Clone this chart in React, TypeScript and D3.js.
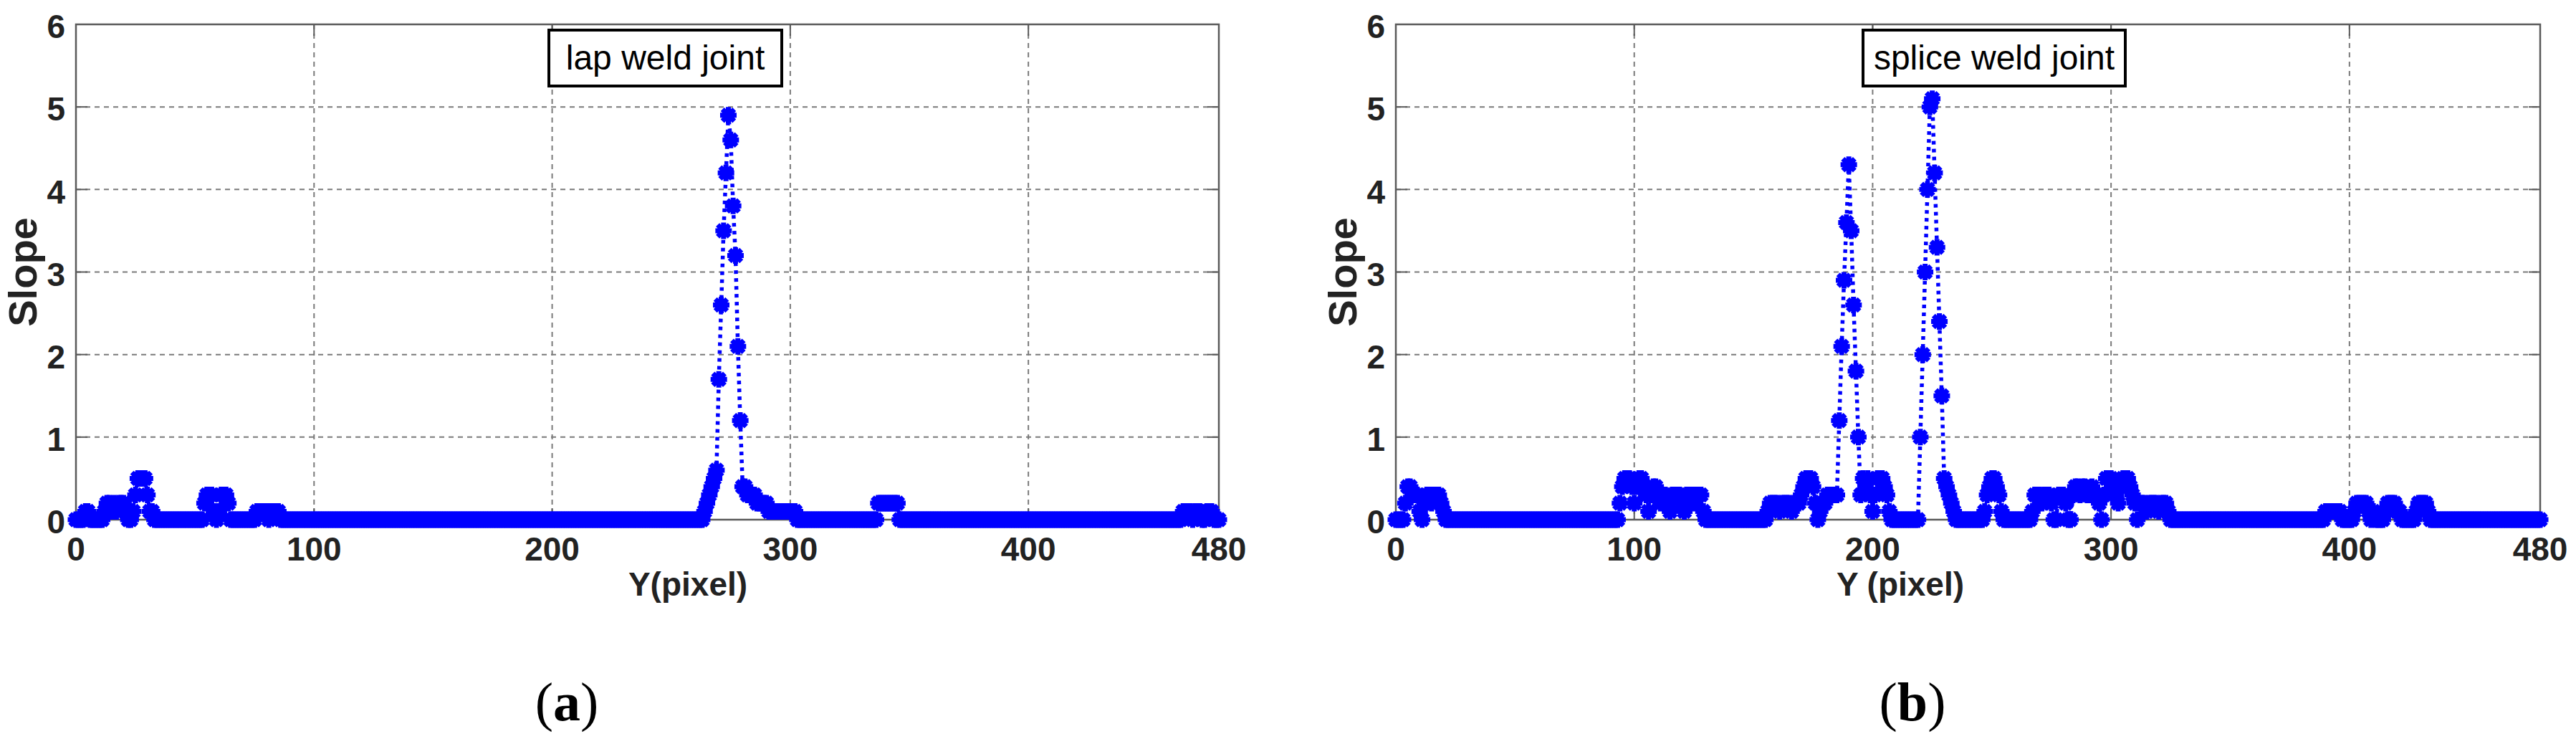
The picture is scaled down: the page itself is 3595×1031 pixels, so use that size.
import * as d3 from 'd3';

const W = 3595;
const H = 1031;

const X_TICKS = [0, 100, 200, 300, 400, 480];
const Y_TICKS = [0, 1, 2, 3, 4, 5, 6];
const GRID_X = [100, 200, 300, 400];
const GRID_Y = [1, 2, 3, 4, 5];

// Slope, [Y pixel, slope]; every other pixel 0..480 reads 0
const LAP_POINTS: [number, number][] = [
  [4, 0.1], [5, 0.1],
  [12, 0.1], [13, 0.2], [14, 0.2], [15, 0.1], [16, 0.2], [17, 0.1], [18, 0.2], [19, 0.2], [20, 0.2], [21, 0.1],
  [24, 0.1], [25, 0.3], [26, 0.5], [27, 0.5], [28, 0.5], [29, 0.5], [30, 0.3], [31, 0.1], [32, 0.1],
  [54, 0.2], [55, 0.3], [56, 0.3], [57, 0.3], [58, 0.1], [60, 0.1], [61, 0.3], [62, 0.3], [63, 0.3], [64, 0.2],
  [76, 0.1], [77, 0.1], [78, 0.1], [79, 0.1], [80, 0.1], [82, 0.1], [83, 0.1], [84, 0.1], [85, 0.1],
  [264, 0.1], [265, 0.2], [266, 0.3], [267, 0.4], [268, 0.5], [269, 0.6],
  [270, 1.7], [271, 2.6], [272, 3.5], [273, 4.2], [274, 4.9], [275, 4.6], [276, 3.8], [277, 3.2], [278, 2.1], [279, 1.2],
  [280, 0.4], [281, 0.4], [282, 0.3], [283, 0.3], [284, 0.3], [285, 0.3], [286, 0.2], [287, 0.2], [288, 0.2], [289, 0.2], [290, 0.2],
  [291, 0.1], [292, 0.1], [293, 0.1], [294, 0.1], [295, 0.1], [296, 0.1], [297, 0.1], [298, 0.1], [299, 0.1], [300, 0.1], [301, 0.1], [302, 0.1],
  [337, 0.2], [338, 0.2], [339, 0.2], [340, 0.2], [341, 0.2], [342, 0.2], [343, 0.2], [344, 0.2], [345, 0.2],
  [465, 0.1], [466, 0.1], [467, 0.1], [468, 0.1], [470, 0.1], [471, 0.1], [472, 0.1], [475, 0.1], [476, 0.1], [477, 0.1],
];

const SPLICE_POINTS: [number, number][] = [
  [4, 0.2], [5, 0.4], [6, 0.4], [7, 0.3], [8, 0.3], [9, 0.3], [10, 0.1], [12, 0.2], [13, 0.3], [14, 0.3], [15, 0.2],
  [16, 0.3], [17, 0.3], [18, 0.3], [19, 0.2], [20, 0.1],
  [94, 0.2], [95, 0.4], [96, 0.5], [97, 0.5], [98, 0.5], [99, 0.4], [100, 0.2], [101, 0.4], [102, 0.5], [103, 0.5],
  [104, 0.4], [105, 0.3], [106, 0.1], [107, 0.3], [108, 0.4], [109, 0.4], [110, 0.3], [111, 0.2], [112, 0.3], [113, 0.3],
  [114, 0.2], [115, 0.1], [116, 0.3], [117, 0.3], [118, 0.3], [119, 0.3], [120, 0.2], [121, 0.1], [122, 0.3], [123, 0.3],
  [124, 0.3], [125, 0.2], [126, 0.3], [127, 0.3], [128, 0.3], [129, 0.1],
  [156, 0.1], [157, 0.2], [158, 0.2], [159, 0.2], [160, 0.2], [161, 0.1], [162, 0.2], [163, 0.2], [164, 0.2], [165, 0.2],
  [166, 0.1], [167, 0.2], [168, 0.2], [169, 0.2], [170, 0.3], [171, 0.4], [172, 0.5], [173, 0.5], [174, 0.5], [175, 0.4],
  [176, 0.2], [178, 0.1], [179, 0.2], [180, 0.2], [181, 0.3], [182, 0.3], [183, 0.3], [184, 0.3], [185, 0.3],
  [186, 1.2], [187, 2.1], [188, 2.9], [189, 3.6], [190, 4.3], [191, 3.5], [192, 2.6], [193, 1.8], [194, 1.0],
  [195, 0.3], [196, 0.5], [197, 0.4], [198, 0.5], [199, 0.3], [200, 0.1], [201, 0.3], [202, 0.5], [203, 0.5], [204, 0.5],
  [205, 0.4], [206, 0.3], [207, 0.1],
  [220, 1.0], [221, 2.0], [222, 3.0], [223, 4.0], [224, 5.0], [225, 5.1], [226, 4.2], [227, 3.3], [228, 2.4], [229, 1.5],
  [230, 0.5], [231, 0.4], [232, 0.3], [233, 0.2], [234, 0.1],
  [247, 0.1], [248, 0.3], [249, 0.4], [250, 0.5], [251, 0.5], [252, 0.4], [253, 0.3], [254, 0.1],
  [267, 0.1], [268, 0.3], [269, 0.3], [270, 0.3], [271, 0.2], [272, 0.3], [273, 0.3], [274, 0.3], [275, 0.2],
  [278, 0.3], [279, 0.3], [280, 0.3], [281, 0.2], [284, 0.3], [285, 0.4], [286, 0.4], [287, 0.3], [288, 0.4], [289, 0.4],
  [290, 0.3], [291, 0.3], [292, 0.4], [293, 0.3], [294, 0.3], [295, 0.2], [297, 0.3], [298, 0.5], [299, 0.5], [300, 0.5],
  [301, 0.4], [302, 0.3], [303, 0.2], [304, 0.4], [305, 0.5], [306, 0.5], [307, 0.5], [308, 0.4], [309, 0.3], [310, 0.2],
  [312, 0.2], [313, 0.2], [314, 0.2], [315, 0.1], [316, 0.2], [317, 0.2], [318, 0.2], [319, 0.2], [320, 0.1], [321, 0.2],
  [322, 0.2], [323, 0.2], [324, 0.1],
  [390, 0.1], [391, 0.1], [392, 0.1], [393, 0.1], [394, 0.1], [395, 0.1], [396, 0.1],
  [402, 0.1], [403, 0.2], [404, 0.2], [405, 0.2], [406, 0.2], [407, 0.2], [408, 0.1], [410, 0.1],
  [415, 0.1], [416, 0.2], [417, 0.2], [418, 0.2], [419, 0.2], [420, 0.1], [421, 0.1],
  [428, 0.1], [429, 0.2], [430, 0.2], [431, 0.2], [432, 0.2], [433, 0.1],
];

const PIXELS = d3.range(0, 481);

const PANELS = [
  { id: 'a', points: LAP_POINTS, note: 'lap weld joint', xLabel: 'Y(pixel)',
    left: 106, right: 1701, noteL: 766, noteR: 1091, xLabelX: 960, captionX: 791 },
  { id: 'b', points: SPLICE_POINTS, note: 'splice weld joint', xLabel: 'Y (pixel)',
    left: 1948, right: 3545, noteL: 2600, noteR: 2966, xLabelX: 2652, captionX: 2669 },
];

const TOP = 34;
const BOTTOM = 725;
const BLUE = '#0000ff';
const GRID = '#7a7a7a';
const AXIS = '#5a5a5a';
const INK = '#222';
const FONT = '"Liberation Sans", Arial, Helvetica, sans-serif';

// MATLAB-style '*' marker (plus + cross), drawn thick
const r = 11.5;
const k = r * 0.72;
const STAR = `M${-r},0L${r},0M0,${-r}L0,${r}M${-k},${-k}L${k},${k}M${-k},${k}L${k},${-k}`;

function Panel({ p }: { p: typeof PANELS[number] }) {
  const x = d3.scaleLinear().domain([0, 480]).range([p.left, p.right]);
  const y = d3.scaleLinear().domain([0, 6]).range([BOTTOM, TOP]);
  const lookup = new Map(p.points);
  const series = PIXELS.map(px => ({ px, v: lookup.get(px) ?? 0 }));
  const line = d3.line<{ px: number; v: number }>().x(d => x(d.px)).y(d => y(d.v));
  const tickLen = 16;

  return (
    <g>
      {GRID_X.map(t => (
        <line key={`gx${t}`} x1={x(t)} x2={x(t)} y1={TOP} y2={BOTTOM}
          stroke={GRID} strokeWidth={2} strokeDasharray="7 6" />
      ))}
      {GRID_Y.map(t => (
        <line key={`gy${t}`} x1={p.left} x2={p.right} y1={y(t)} y2={y(t)}
          stroke={GRID} strokeWidth={2} strokeDasharray="7 6" />
      ))}
      {/* inward ticks */}
      {Y_TICKS.map(t => (
        <g key={`ty${t}`} stroke={AXIS} strokeWidth={2}>
          <line x1={p.left} x2={p.left + tickLen} y1={y(t)} y2={y(t)} />
          <line x1={p.right} x2={p.right - tickLen} y1={y(t)} y2={y(t)} />
        </g>
      ))}
      {X_TICKS.map(t => (
        <g key={`tx${t}`} stroke={AXIS} strokeWidth={2}>
          <line x1={x(t)} x2={x(t)} y1={BOTTOM} y2={BOTTOM - tickLen} />
          <line x1={x(t)} x2={x(t)} y1={TOP} y2={TOP + tickLen} />
        </g>
      ))}
      <rect x={p.left} y={TOP} width={p.right - p.left} height={BOTTOM - TOP}
        fill="none" stroke={AXIS} strokeWidth={2.5} />

      <path d={line(series) ?? ''} fill="none" stroke={BLUE} strokeWidth={5.5} strokeDasharray="5 6" />
      {series.map(d => (
        <path key={d.px} d={STAR} transform={`translate(${x(d.px)},${y(d.v)})`}
          stroke={BLUE} strokeWidth={7} fill="none" />
      ))}

      {Y_TICKS.map(t => (
        <text key={`ly${t}`} x={p.left - 15} y={y(t)} dy="0.42em" textAnchor="end"
          fontFamily={FONT} fontWeight="bold" fontSize={46} fill={INK}>{t}</text>
      ))}
      {X_TICKS.map(t => (
        <text key={`lx${t}`} x={x(t)} y={BOTTOM + 57} textAnchor="middle"
          fontFamily={FONT} fontWeight="bold" fontSize={46} fill={INK}>{t}</text>
      ))}
      <text x={p.xLabelX} y={BOTTOM + 106} textAnchor="middle" fontFamily={FONT}
        fontWeight="bold" fontSize={46} fill={INK}>{p.xLabel}</text>
      <text transform={`translate(${p.left - 55},${(TOP + BOTTOM) / 2}) rotate(-90)`}
        textAnchor="middle" fontFamily={FONT} fontWeight="bold" fontSize={56} fill={INK}>Slope</text>

      <g>
        <rect x={p.noteL} y={42} width={p.noteR - p.noteL} height={78}
          fill="#fff" stroke="#000" strokeWidth={4} />
        <text x={(p.noteL + p.noteR) / 2} y={97} textAnchor="middle" fontFamily={FONT}
          fontSize={48} fill="#000">{p.note}</text>
      </g>

      <text x={p.captionX} y={1005} textAnchor="middle"
        fontFamily='"Liberation Serif", "Times New Roman", serif' fontSize={76} fill="#000">
        (<tspan fontWeight="bold">{p.id}</tspan>)
      </text>
    </g>
  );
}

export default function App() {
  return (
    <svg width={W} height={H} viewBox={`0 0 ${W} ${H}`}
      style={{ position: 'absolute', left: 0, top: 0, background: '#fff' }}>
      <rect width={W} height={H} fill="#fff" />
      {PANELS.map(p => <Panel key={p.id} p={p} />)}
    </svg>
  );
}
